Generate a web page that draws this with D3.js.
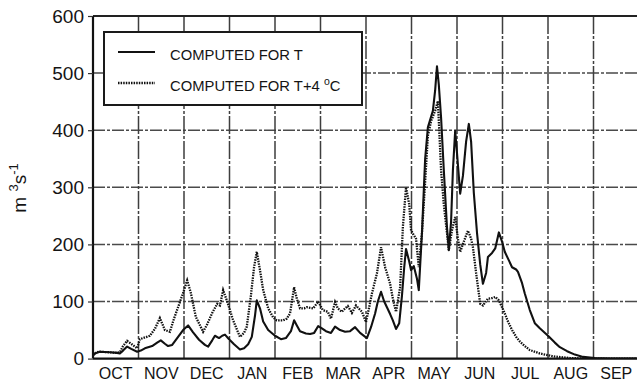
<!DOCTYPE html>
<html>
<head>
<meta charset="utf-8">
<script src="https://cdn.jsdelivr.net/npm/d3@7"></script>
<style>
  html, body { margin: 0; padding: 0; background: #fff; }
  svg text { font-family: "Liberation Sans", Arial, sans-serif; fill: #141414; }
</style>
</head>
<body>
<svg id="chart" width="637" height="386"></svg>
<script>
// Month labels of the hydrological year (October to September)
const months = ["OCT","NOV","DEC","JAN","FEB","MAR","APR","MAY","JUN","JUL","AUG","SEP"];
const yTicks = [0, 100, 200, 300, 400, 500, 600];

// Discharge computed for T: time in months since 1 October, flow in m3/s
const timeT = [0.00,0.07,0.15,0.37,0.53,0.59,0.66,0.75,0.84,0.97,1.05,1.14,1.30,1.41,1.49,1.58,1.65,1.74,1.85,1.98,
  2.09,2.20,2.33,2.46,2.53,2.62,2.68,2.77,2.84,2.90,2.99,3.10,3.23,3.32,3.41,3.49,3.56,3.60,3.67,3.74,3.85,
  4.00,4.13,4.24,4.35,4.42,4.48,4.55,4.68,4.77,4.86,4.95,5.03,5.12,5.23,5.32,5.43,5.54,5.65,5.76,5.87,
  6.02,6.11,6.20,6.26,6.33,6.40,6.46,6.53,6.59,6.66,6.73,6.79,6.84,6.88,6.95,6.99,7.05,7.12,7.16,7.23,7.30,7.36,
  7.47,7.52,7.56,7.60,7.65,7.71,7.78,7.82,7.87,7.91,7.96,8.00,8.07,8.13,8.20,8.26,8.31,8.37,8.44,8.51,8.57,8.64,
  8.68,8.77,8.84,8.92,8.99,9.05,9.14,9.21,9.30,9.34,9.43,9.49,9.60,9.71,9.82,10.00,10.15,10.26,10.42,10.59,10.77,
  11.03,11.36,12.00];
const flowT = [6,10,12,11,10,9,14,21,17,12,14,18,22,28,32,26,22,24,36,50,
  58,46,33,24,21,32,40,36,40,42,34,25,16,18,25,38,75,102,88,65,50,
  40,34,36,48,67,58,48,44,43,45,57,53,48,45,56,50,47,48,55,45,
  36,55,79,100,117,100,90,78,67,52,62,110,160,192,170,155,162,140,120,220,350,405,
  434,470,512,480,422,330,230,190,240,330,399,360,289,320,380,411,380,290,220,165,131,150,
  178,185,193,221,205,187,172,160,156,152,132,114,85,62,53,40,28,20,13,7,3,
  1,0,0];

// Discharge computed for T+4 °C
const timeT4 = [0.00,0.07,0.15,0.37,0.53,0.59,0.66,0.75,0.84,0.97,1.03,1.10,1.25,1.36,1.47,1.58,1.69,1.78,1.87,1.98,
  2.07,2.15,2.26,2.42,2.51,2.62,2.73,2.79,2.86,2.97,3.08,3.23,3.32,3.38,3.47,3.54,3.60,3.67,3.74,3.85,3.96,
  4.04,4.18,4.26,4.33,4.42,4.48,4.55,4.64,4.70,4.84,4.95,5.05,5.16,5.23,5.32,5.38,5.47,5.54,5.60,5.69,5.78,5.91,
  6.00,6.07,6.13,6.24,6.33,6.42,6.53,6.59,6.66,6.75,6.81,6.88,6.95,6.99,7.03,7.10,7.16,7.23,7.30,7.36,7.43,7.52,
  7.58,7.65,7.71,7.78,7.82,7.89,7.96,8.02,8.07,8.15,8.24,8.31,8.35,8.42,8.51,8.57,8.68,8.77,8.84,8.92,8.99,9.05,
  9.12,9.21,9.30,9.38,9.49,9.60,9.82,10.11,10.48,10.92,12.00];
const flowT4 = [6,11,12,11,10,11,22,31,26,18,34,36,40,52,71,50,47,70,90,115,
  137,115,73,47,60,80,96,93,120,95,67,38,45,56,110,160,187,155,120,88,72,
  67,67,70,79,125,105,88,88,90,88,100,85,82,70,99,88,82,88,92,80,93,82,
  64,90,114,149,195,160,131,105,82,125,230,300,270,225,219,210,160,220,310,390,416,434,
  451,330,270,220,190,225,248,210,187,205,224,210,195,150,96,93,105,106,108,102,90,79,
  65,50,38,30,22,15,9,4,1,0,0];

const plot = { left: 93, top: 16, right: 639, bottom: 358.6 };

const svg = d3.select("#chart");

const x = d3.scaleLinear().domain([0, 12]).range([plot.left, plot.right]);
const y = d3.scaleLinear().domain([0, 600]).range([plot.bottom, plot.top]);

// Grid
const grid = svg.append("g").attr("class", "grid");
grid.selectAll("line.h")
  .data(yTicks.filter(v => v > 0 && v < 600))
  .join("line")
  .attr("class", "h")
  .attr("x1", plot.left).attr("x2", plot.right)
  .attr("y1", d => y(d)).attr("y2", d => y(d))
  .attr("stroke", "#4a4a4a").attr("stroke-width", 1.5)
  .attr("stroke-dasharray", "12,2,3,2");
grid.selectAll("line.v")
  .data(d3.range(1, 12))
  .join("line")
  .attr("class", "v")
  .attr("y1", plot.top).attr("y2", plot.bottom)
  .attr("x1", d => x(d)).attr("x2", d => x(d))
  .attr("stroke", "#3e3e3e").attr("stroke-width", 1.5)
  .attr("stroke-dasharray", "18,2,3,2");

// Clip region for the series
svg.append("clipPath").attr("id", "plotClip")
  .append("rect")
  .attr("x", plot.left).attr("y", plot.top)
  .attr("width", plot.right - plot.left).attr("height", plot.bottom - plot.top);

const line = d3.line().x(d => x(d[0])).y(d => y(d[1]));
const seriesT = timeT.map((t, i) => [t, flowT[i]]);
const seriesT4 = timeT4.map((t, i) => [t, flowT4[i]]);

const series = svg.append("g").attr("clip-path", "url(#plotClip)");
series.append("path")
  .datum(seriesT4)
  .attr("d", line)
  .attr("fill", "none")
  .attr("stroke", "#111")
  .attr("stroke-width", 2.3)
  .attr("stroke-dasharray", "1.5,1.1");
series.append("path")
  .datum(seriesT)
  .attr("d", line)
  .attr("fill", "none")
  .attr("stroke", "#111")
  .attr("stroke-width", 2.1)
  .attr("stroke-linejoin", "round");

// Frame
const frame = svg.append("g");
frame.append("line").attr("x1", plot.left).attr("x2", plot.right)
  .attr("y1", plot.top).attr("y2", plot.top).attr("stroke", "#222").attr("stroke-width", 2);
frame.append("line").attr("x1", plot.left).attr("x2", plot.right)
  .attr("y1", plot.bottom).attr("y2", plot.bottom).attr("stroke", "#111").attr("stroke-width", 2.4);
frame.append("line").attr("x1", plot.left).attr("x2", plot.left)
  .attr("y1", plot.top).attr("y2", plot.bottom).attr("stroke", "#111").attr("stroke-width", 2.2);

// Y axis
const yAxis = svg.append("g")
  .attr("transform", `translate(${plot.left},0)`)
  .call(d3.axisLeft(y).tickValues(yTicks).tickSize(5).tickPadding(4).tickFormat(d3.format("d")));
yAxis.select(".domain").remove();
yAxis.selectAll(".tick line").attr("stroke", "#333").attr("stroke-width", 1.2);
yAxis.selectAll(".tick text")
  .attr("font-size", 19)
  .attr("font-family", "'Liberation Sans', Arial, sans-serif")
  .attr("fill", "#141414");

// X axis: month names centred in each month
const xAxis = svg.append("g");
xAxis.selectAll("text")
  .data(months)
  .join("text")
  .attr("x", (d, i) => x(i + 0.5))
  .attr("y", 379)
  .attr("text-anchor", "middle")
  .attr("font-size", 16)
  .text(d => d);

// Y axis title: m3 s-1
const yTitle = svg.append("text")
  .attr("transform", "translate(26,188) rotate(-90)")
  .attr("text-anchor", "middle")
  .attr("font-size", 19);
yTitle.append("tspan").text("m ");
yTitle.append("tspan").attr("font-size", 13).attr("dy", -8).text("3");
yTitle.append("tspan").attr("dy", 8).text("s");
yTitle.append("tspan").attr("font-size", 13).attr("dy", -8).text("-1");

// Legend
const legend = svg.append("g");
legend.append("rect")
  .attr("x", 104).attr("y", 32).attr("width", 258).attr("height", 73)
  .attr("fill", "#fff").attr("stroke", "#1a1a1a").attr("stroke-width", 2);
legend.append("line")
  .attr("x1", 118).attr("x2", 155).attr("y1", 52).attr("y2", 52)
  .attr("stroke", "#111").attr("stroke-width", 2.1);
legend.append("line")
  .attr("x1", 118).attr("x2", 155).attr("y1", 83).attr("y2", 83)
  .attr("stroke", "#111").attr("stroke-width", 2.3).attr("stroke-dasharray", "1.5,1.1");
legend.append("text")
  .attr("x", 170).attr("y", 60).attr("font-size", 14.8)
  .text("COMPUTED FOR T");
const l2 = legend.append("text")
  .attr("x", 170).attr("y", 91).attr("font-size", 14.8);
l2.append("tspan").text("COMPUTED FOR T+4 ");
l2.append("tspan").attr("font-size", 10.5).attr("dy", -6).text("o");
l2.append("tspan").attr("dy", 6).text("C");
</script>
</body>
</html>
